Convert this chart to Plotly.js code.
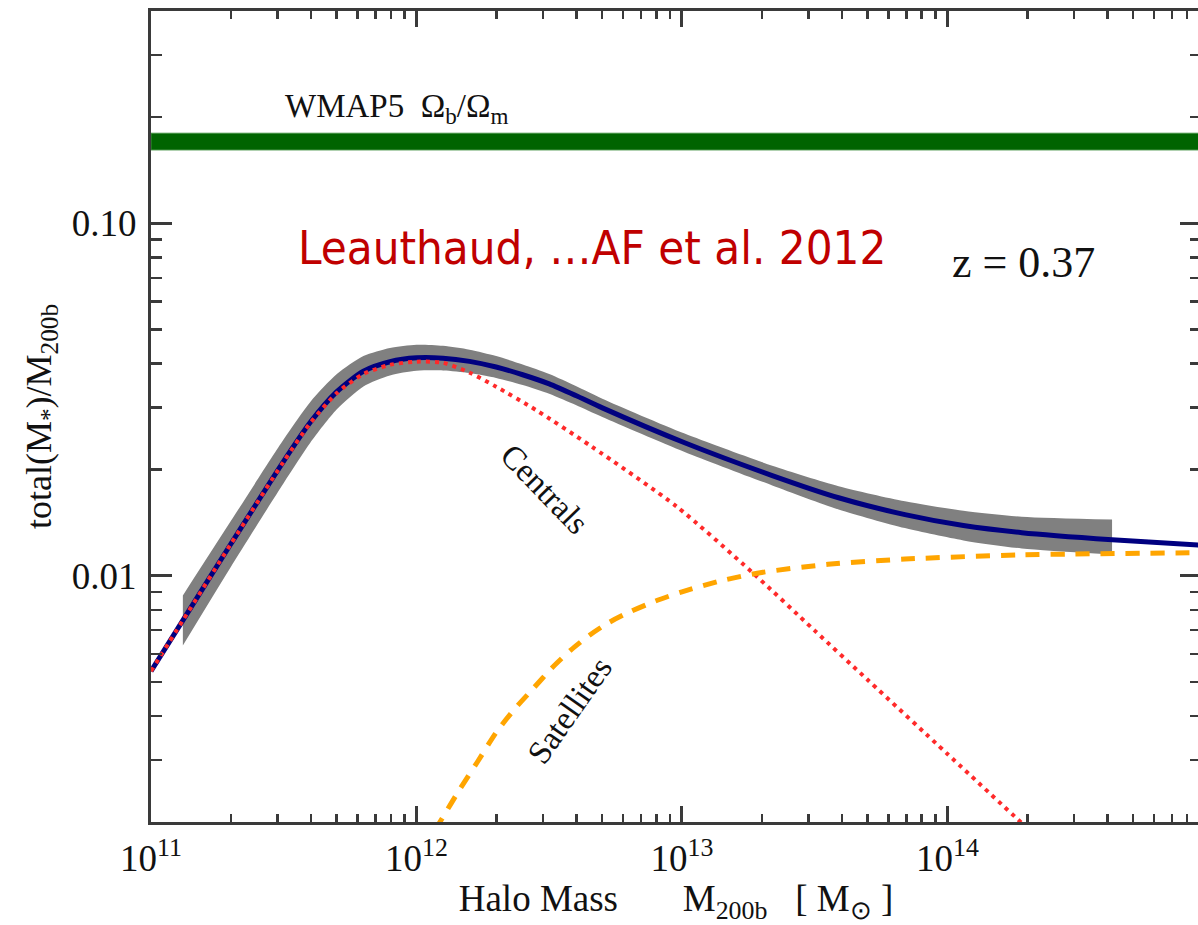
<!DOCTYPE html>
<html>
<head>
<meta charset="utf-8">
<script src="https://cdn.plot.ly/plotly-3.0.1.min.js"></script>
<style>
  html, body { margin: 0; padding: 0; background: #ffffff; overflow: hidden; }
  #chart { width: 1206px; height: 925px; }
</style>
</head>
<body>
<div id="chart"></div>
<script>
// Halo mass [M_sun] and stellar-to-halo mass ratio at z = 0.37

// Total stellar mass fraction (centrals + satellites)
const totalMass = [1e11, 10**11.12, 10**11.3, 10**11.5, 10**11.6, 10**11.7, 10**11.8, 10**11.9, 10**12.0,
                   10**12.1, 10**12.2, 10**12.3, 10**12.4, 10**12.5, 10**12.6, 10**12.7, 10**13.01,
                   10**13.34, 10**13.59, 10**13.84, 10**14.06, 10**14.28, 10**14.62, 10**14.96];
const totalFrac = [0.005358, 0.007464, 0.012274, 0.021135, 0.027227, 0.033266, 0.038019, 0.040458, 0.041495,
                   0.041400, 0.040551, 0.039084, 0.037154, 0.034995, 0.032434, 0.029923, 0.023823,
                   0.019231, 0.016634, 0.014894, 0.013868, 0.013243, 0.012647, 0.012190];

// Uncertainty band on the total
const bandMass = [10**11.12, 10**11.3, 10**11.5, 10**11.6, 10**11.7, 10**11.8, 10**11.9, 10**12.0, 10**12.1,
                  10**12.2, 10**12.3, 10**12.4, 10**12.5, 10**12.6, 10**12.7, 10**13.01, 10**13.34,
                  10**13.59, 10**13.84, 10**14.06, 10**14.28, 10**14.62];
const bandLow  = [0.006339, 0.010568, 0.018323, 0.023823, 0.029648, 0.034435, 0.036983, 0.038107, 0.038194,
                  0.037584, 0.036392, 0.034754, 0.032810, 0.030479, 0.028184, 0.022439, 0.018030,
                  0.015417, 0.013646, 0.012589, 0.011940, 0.011482];
const bandHigh = [0.008790, 0.014256, 0.024378, 0.031117, 0.037325, 0.041976, 0.044259, 0.045186, 0.044875,
                  0.043752, 0.041976, 0.039719, 0.037325, 0.034514, 0.031769, 0.025293, 0.020512,
                  0.017947, 0.016255, 0.015276, 0.014689, 0.014421];

// Central galaxies
const centralMass = [1e11, 10**11.12, 10**11.3, 10**11.5, 10**11.6, 10**11.7, 10**11.8, 10**11.9, 10**12.0,
                     10**12.1, 10**12.2, 10**12.3, 10**12.45, 10**12.66, 10**12.98, 10**13.265, 10**13.5,
                     10**13.7, 10**14.0, 10**14.3];
const centralFrac = [0.005358, 0.007464, 0.012274, 0.021086, 0.027102, 0.032961, 0.037325, 0.039628, 0.040457,
                     0.040179, 0.037670, 0.034356, 0.029512, 0.023227, 0.015704, 0.010209, 0.006982,
                     0.005058, 0.003119, 0.001923];

// Satellite galaxies
const satMass = [10**12.07, 10**12.094, 10**12.16, 10**12.23, 10**12.30, 10**12.37, 10**12.44, 10**12.51,
                 10**12.58, 10**12.65, 10**12.72, 10**12.80, 10**12.90, 10**13.0, 10**13.15, 10**13.3,
                 10**13.55, 10**13.84, 10**14.28, 10**14.96];
const satFrac = [0.001897, 0.002032, 0.002455, 0.002965, 0.003589, 0.004188, 0.004786, 0.005470,
                 0.006138, 0.006761, 0.007328, 0.007870, 0.008472, 0.008995, 0.009683, 0.010209,
                 0.010765, 0.011143, 0.011455, 0.011614];

// Cosmic baryon fraction (WMAP5)
const wmapLow = 0.1614;
const wmapHigh = 0.180;

// Axis ticks
const xTickVals = [1e11, 1e12, 1e13, 1e14];
const xTickText = ['10<sup>11</sup>', '10<sup>12</sup>', '10<sup>13</sup>', '10<sup>14</sup>'];
const yTickVals = [0.01, 0.1];
const yTickText = ['0.01', '0.10'];

function minorLogTicks(firstExp, lastExp) {
  const vals = [];
  for (let e = firstExp; e <= lastExp; e++) {
    for (let d = 2; d <= 9; d++) vals.push(d * Math.pow(10, e));
  }
  return vals;
}
const xMinor = minorLogTicks(11, 14);
const yMinor = minorLogTicks(-3, -1).filter(v => v >= 0.002 && v <= 0.4);

const serif = 'Liberation Serif, Times New Roman, serif';
const nb = '\u00A0';
const smooth = 0.7;

const traces = [
  { x: bandMass, y: bandLow, mode: 'lines', line: { width: 0, color: '#808080', shape: 'spline', smoothing: smooth },
    hoverinfo: 'skip', showlegend: false },
  { x: bandMass, y: bandHigh, mode: 'lines', line: { width: 0, color: '#808080', shape: 'spline', smoothing: smooth },
    fill: 'tonexty', fillcolor: '#808080', hoverinfo: 'skip', showlegend: false },
  { x: totalMass, y: totalFrac, mode: 'lines', name: 'Total',
    line: { color: '#000080', width: 5, shape: 'spline', smoothing: smooth }, showlegend: false },
  { x: centralMass, y: centralFrac, mode: 'lines', name: 'Centrals',
    line: { color: '#ff2a2a', width: 4, dash: '4px,5px', shape: 'spline', smoothing: smooth }, showlegend: false },
  { x: satMass, y: satFrac, mode: 'lines', name: 'Satellites',
    line: { color: '#ffa500', width: 5, dash: '14px,11px', shape: 'spline', smoothing: smooth }, showlegend: false }
];

const axisCommon = {
  type: 'log',
  showgrid: false,
  zeroline: false,
  showline: true,
  linecolor: '#3a3a3a',
  linewidth: 3,
  mirror: 'allticks',
  ticks: 'inside',
  tickcolor: '#3a3a3a',
  tickwidth: 3,
  tickmode: 'array',
  tickfont: { family: serif, size: 37, color: '#111111' }
};

const layout = {
  width: 1206,
  height: 925,
  margin: { l: 151, r: 5, t: 11, b: 103 },
  paper_bgcolor: '#ffffff',
  plot_bgcolor: '#ffffff',
  showlegend: false,
  xaxis: Object.assign({}, axisCommon, {
    range: [11, 14.955],
    tickvals: xTickVals,
    ticktext: xTickText,
    ticklen: 16,
    ticklabelstandoff: 2,
    minor: { tickmode: 'array', tickvals: xMinor, ticklen: 8, tickwidth: 2.5, tickcolor: '#3a3a3a', ticks: 'inside' },
    title: { text: 'Halo Mass' + nb.repeat(7) + 'M<sub>200b</sub>' + nb.repeat(3) + '[ M<sub>⊙</sub> ]',
             font: { family: serif, size: 37, color: '#111111' }, standoff: 4 }
  }),
  yaxis: Object.assign({}, axisCommon, {
    range: [Math.log10(0.002), Math.log10(0.4)],
    tickvals: yTickVals,
    ticktext: yTickText,
    ticklen: 21,
    ticklabelstandoff: 4,
    minor: { tickmode: 'array', tickvals: yMinor, ticklen: 11, tickwidth: 2.5, tickcolor: '#3a3a3a', ticks: 'inside' },
    title: { text: 'total(M<sub>*</sub>)/M<sub>200b</sub>',
             font: { family: serif, size: 36, color: '#111111' }, standoff: 10 }
  }),
  shapes: [
    { type: 'rect', xref: 'paper', yref: 'y', x0: 0, x1: 1, y0: wmapLow, y1: wmapHigh,
      fillcolor: '#006400', line: { width: 1, color: '#3f8f3f' }, layer: 'below' }
  ],
  annotations: [
    { xref: 'paper', yref: 'paper', x: 0.2338, y: 0.880, xanchor: 'center', yanchor: 'middle',
      text: 'WMAP5' + nb + nb + 'Ω<sub>b</sub>/Ω<sub>m</sub>', showarrow: false,
      font: { family: serif, size: 33, color: '#111111' } },
    { xref: 'paper', yref: 'paper', x: 0.420, y: 0.709, xanchor: 'center', yanchor: 'middle',
      text: 'Leauthaud, …AF et al. 2012', showarrow: false,
      font: { family: 'DejaVu Sans Condensed, Liberation Sans, sans-serif', size: 47, color: '#c00000' } },
    { xref: 'paper', yref: 'paper', x: 0.831, y: 0.690, xanchor: 'center', yanchor: 'middle',
      text: 'z = 0.37', showarrow: false,
      font: { family: serif, size: 44, color: '#111111' } },
    { xref: 'paper', yref: 'paper', x: 0.375, y: 0.411, xanchor: 'center', yanchor: 'middle',
      text: 'Centrals', textangle: 46, showarrow: false,
      font: { family: serif, size: 33, color: '#111111' } },
    { xref: 'paper', yref: 'paper', x: 0.399, y: 0.138, xanchor: 'center', yanchor: 'middle',
      text: 'Satellites', textangle: -55, showarrow: false,
      font: { family: serif, size: 33, color: '#111111' } }
  ]
};

Plotly.newPlot('chart', traces, layout, { displayModeBar: false, staticPlot: true });
</script>
</body>
</html>
